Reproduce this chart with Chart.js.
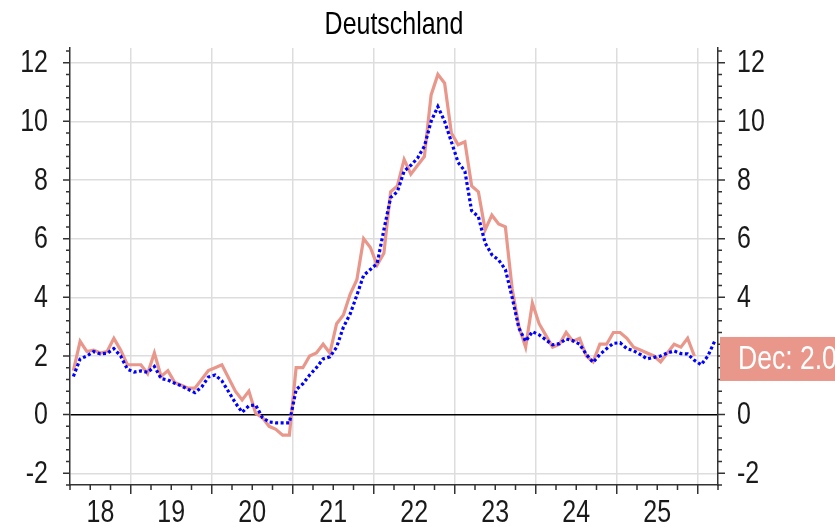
<!DOCTYPE html>
<html><head><meta charset="utf-8">
<script src="https://cdn.jsdelivr.net/npm/chart.js@4.4.1/dist/chart.umd.min.js"></script>
<style>html,body{margin:0;padding:0;background:#fff;overflow:hidden}#wrap{width:835px;height:527px}</style>
</head><body><div id="wrap"><canvas id="c" width="835" height="527"></canvas></div>
<script>
// ---- data (annual rates, %, monthly from April 2018) ----
const startYear = 2018, startMonth = 4;
const hicp = [
  1.5, 2.5, 2.15, 2.2, 2.1, 2.15, 2.6, 2.2, 1.7,
  1.7, 1.7, 1.4, 2.1, 1.3, 1.5, 1.1, 1.0, 0.9, 0.9, 1.2, 1.5,
  1.6, 1.7, 1.25, 0.8, 0.5, 0.8, 0.05, -0.1, -0.4, -0.5, -0.7, -0.7,
  1.6, 1.6, 2.0, 2.1, 2.4, 2.1, 3.1, 3.4, 4.1, 4.6, 6.0, 5.7,
  5.1, 5.5, 7.6, 7.8, 8.7, 8.2, 8.5, 8.8, 10.9, 11.6, 11.3, 9.6,
  9.2, 9.3, 7.8, 7.6, 6.3, 6.8, 6.5, 6.4, 4.3, 3.0, 2.3, 3.8,
  3.1, 2.7, 2.3, 2.4, 2.8, 2.5, 2.6, 2.0, 1.8, 2.4, 2.4, 2.8,
  2.8, 2.6, 2.3, 2.2, 2.1, 2.0, 1.8, 2.1, 2.4, 2.3, 2.6, 2.0
];
const cpi = [
  1.3, 1.9, 2.0, 2.15, 2.07, 2.09, 2.25, 2.0, 1.55,
  1.45, 1.49, 1.44, 1.64, 1.23, 1.18, 1.07, 0.98, 0.86, 0.75, 0.94, 1.28,
  1.35, 1.15, 0.78, 0.4, 0.08, 0.3, 0.33, -0.1, -0.25, -0.28, -0.28, -0.28,
  0.85, 1.05, 1.35, 1.6, 1.9, 1.97, 2.3, 2.98, 3.43, 4.07, 4.75, 4.95,
  5.15, 6.3, 7.4, 7.6, 8.3, 8.5, 8.75, 9.15, 10.0, 10.5, 10.0, 9.3,
  8.6, 8.3, 6.95, 6.75, 5.85, 5.45, 5.27, 4.95, 4.0, 2.95, 2.5, 2.83,
  2.72, 2.55, 2.38, 2.42, 2.58, 2.52, 2.4, 2.05, 1.78, 2.05, 2.25, 2.43,
  2.45, 2.25, 2.18, 2.05, 1.9, 1.95, 2.0, 2.1, 2.17, 2.08, 2.07, 1.85,
  1.7, 2.0, 2.5
];
const yearLabels = ['18','19','20','21','22','23','24','25'];
const yearLabelPos = [2018.625, 2019.5, 2020.5, 2021.5, 2022.5, 2023.5, 2024.5, 2025.5];
const yearBounds = [2019, 2020, 2021, 2022, 2023, 2024, 2025, 2026];
const yTicks = [-2, 0, 2, 4, 6, 8, 10, 12];
const titleText = 'Deutschland';
const lastLabel = 'Dec: 2.0';

// ---- helpers ----
function monthX(i) { const m = startMonth - 1 + i; return startYear + Math.floor(m / 12) + ((m % 12) + 0.5) / 12; }
const toPts = arr => arr.map((v, i) => ({ x: monthX(i), y: v }));

const FONT = '"Liberation Sans", Arial, sans-serif';
const FS = 32, SX = 0.78;
const RED = '#E9968B';
const AXIS = '#333333';
const GRID = '#dddddd';
const TXT = '#1a1a1a';
const X_MIN = 2018.25, X_MAX = 2026.25, Y_MIN = -2.4, Y_MAX = 12.5;

function condText(ctx, text, x, y, align) {
  ctx.save();
  ctx.translate(x, y);
  ctx.scale(SX, 1);
  ctx.textAlign = align;
  ctx.textBaseline = 'middle';
  ctx.fillText(text, 0, 0);
  ctx.restore();
}

const decor = {
  id: 'decor',
  afterDraw(chart) {
    const ctx = chart.ctx, a = chart.chartArea;
    const xs = chart.scales.x, ys = chart.scales.y;
    ctx.save();
    // tick marks
    ctx.strokeStyle = AXIS; ctx.lineWidth = 1.5;
    ctx.beginPath();
    for (let k = -6; k <= 31; k++) {
      const py = ys.getPixelForValue(k * 0.4);
      const L = (k % 5 === 0) ? 7 : 4;
      ctx.moveTo(a.left, py); ctx.lineTo(a.left - L, py);
      ctx.moveTo(a.right, py); ctx.lineTo(a.right + L, py);
    }
    for (let q = X_MIN; q <= X_MAX + 1e-9; q += 0.25) {
      const px = xs.getPixelForValue(q);
      const L = Math.abs(q - Math.round(q)) < 1e-6 ? 9 : 5;
      ctx.moveTo(px, a.bottom); ctx.lineTo(px, a.bottom + L);
    }
    ctx.stroke();
    // tick labels
    ctx.fillStyle = TXT;
    ctx.font = FS + 'px ' + FONT;
    yTicks.forEach(v => {
      const py = ys.getPixelForValue(v);
      condText(ctx, String(v), a.left - 22, py + 1, 'right');
      condText(ctx, String(v), a.right + 19, py + 1, 'left');
    });
    yearLabels.forEach((lab, i) => {
      condText(ctx, lab, xs.getPixelForValue(yearLabelPos[i]), a.bottom + 28, 'center');
    });
    // title
    ctx.fillStyle = '#000';
    condText(ctx, titleText, (a.left + a.right) / 2, 25, 'center');
    // last value label
    const last = hicp[hicp.length - 1];
    const cy = ys.getPixelForValue(last) + 3;
    ctx.fillStyle = RED;
    ctx.fillRect(a.right + 2, cy - 22, chart.width - a.right, 44);
    ctx.fillStyle = '#ffffff';
    ctx.font = '34px ' + FONT;
    condText(ctx, lastLabel, a.right + 20, cy + 1, 'left');
    ctx.restore();
  }
};

new Chart(document.getElementById('c'), {
  type: 'line',
  data: {
    datasets: [
      { label: 'blue', data: toPts(cpi), borderColor: '#0000ff', borderWidth: 3.2, borderDash: [3, 2.5],
        borderCapStyle: 'butt', pointRadius: 0, tension: 0, fill: false },
      { label: 'red', data: toPts(hicp), borderColor: RED, borderWidth: 3.2, pointRadius: 0, tension: 0, fill: false }
    ]
  },
  options: {
    responsive: false, animation: false, devicePixelRatio: 1,
    layout: { padding: { top: 48, left: 0, right: 0, bottom: 0 } },
    plugins: { legend: { display: false }, tooltip: { enabled: false }, title: { display: false } },
    scales: {
      x: {
        type: 'linear', position: 'bottom', min: X_MIN, max: X_MAX,
        afterBuildTicks: s => { s.ticks = yearBounds.map(v => ({ value: v })); },
        afterFit: s => { s.height = 42; },
        grid: { color: GRID, lineWidth: 1.5, drawTicks: false },
        border: { display: true, color: AXIS, width: 1.5 },
        ticks: { display: false }
      },
      y: {
        type: 'linear', position: 'left', min: Y_MIN, max: Y_MAX,
        afterBuildTicks: s => { s.ticks = yTicks.map(v => ({ value: v })); },
        afterFit: s => { s.width = 70; },
        grid: { color: c => (c.tick && c.tick.value === 0) ? '#000' : GRID, lineWidth: 1.5, drawTicks: false },
        border: { display: true, color: AXIS, width: 1.5 },
        ticks: { display: false }
      },
      y2: {
        type: 'linear', position: 'right', min: Y_MIN, max: Y_MAX,
        afterFit: s => { s.width = 117; },
        grid: { display: false, drawTicks: false },
        border: { display: true, color: AXIS, width: 1.5 },
        ticks: { display: false }
      }
    }
  },
  plugins: [decor]
});
</script>
</body></html>
